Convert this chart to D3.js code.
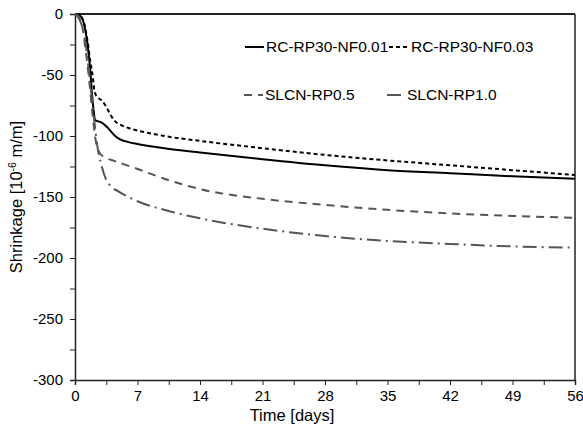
<!DOCTYPE html>
<html><head><meta charset="utf-8">
<script src="https://cdn.jsdelivr.net/npm/d3@7"></script>
<style>body{margin:0;background:#fff;} text{font-family:Arial,"Liberation Sans",sans-serif;}</style>
</head><body><svg id="c" width="583" height="429"></svg>
<script>
const xTicks = [0,7,14,21,28,35,42,49,56];
const yTicks = [0,-50,-100,-150,-200,-250,-300];
const seriesNames = ["RC-RP30-NF0.01","RC-RP30-NF0.03","SLCN-RP0.5","SLCN-RP1.0"];
const tA = [0,0.5,1.0,1.4,1.7,1.9,2.1,2.25,2.6,3.0,3.5,4.0,4.5,5,6,7,10,14,21,28,35,42,49,56];
const vA = [0,-1,-8,-25,-45,-65,-80,-87,-88,-89,-92,-96,-100,-102.5,-105,-106.5,-110,-113.5,-119,-124,-128,-130.5,-133,-135];
const tB = [0,0.5,1.0,1.4,1.7,2.0,2.2,2.5,3.0,3.5,4.0,4.5,5,6,7,10,14,21,28,35,42,49,56];
const vB = [0,-1,-7,-22,-38,-52,-64,-68,-71,-76,-83,-88,-90.5,-93.5,-95.5,-100,-104,-110,-115.5,-120,-124,-128,-132];
const tC = [0,0.4,0.8,1.2,1.6,2.0,2.3,2.7,3.2,4,5,6,7,10,14,21,28,35,42,49,56];
const vC = [0,-2,-10,-30,-55,-85,-103,-113,-117,-119.5,-122,-124.5,-127,-135,-143.5,-151.5,-156.5,-160.5,-163.5,-165.5,-167];
const tD = [0,0.3,0.7,1.1,1.5,1.9,2.2,2.5,3.0,3.5,4.0,5,6,7,10,14,21,28,35,42,49,56];
const vD = [0,-2,-8,-20,-43,-70,-90,-108,-125,-136,-141,-146,-150,-153.5,-160.5,-167.5,-176,-182,-186,-188.5,-190.5,-191.5];

const svg = d3.select("#c");
const L=75,R=575,T=14,B=380;
const x = d3.scaleLinear().domain([0,56]).range([L,R]);
const y = d3.scaleLinear().domain([-300,0]).range([B,T]);

const styles = [
 {color:"#000", dash:null, w:2},
 {color:"#000", dash:"4,3", w:2},
 {color:"#555", dash:"8,6", w:2},
 {color:"#555", dash:"14,5,2,5", w:2}
];
const data = [[tA,vA],[tB,vB],[tC,vC],[tD,vD]];

const xAxis = d3.axisBottom(x).tickValues(d3.range(0,56.01,3.5)).tickSize(5).tickPadding(5).tickFormat(d=> xTicks.includes(d)? d : "");
const gx = svg.append("g").attr("transform",`translate(0,${B})`).call(xAxis);
const yAxis = d3.axisLeft(y).tickValues(d3.range(-300,0.01,25)).tickSize(5).tickPadding(7).tickFormat(d=> yTicks.includes(d)? d : "");
const gy = svg.append("g").attr("transform",`translate(${L},0)`).call(yAxis);
[gx,gy].forEach(g=>{
  g.select(".domain").attr("stroke","#222").attr("stroke-width",1.5);
  g.selectAll(".tick line").attr("stroke","#222").attr("stroke-width",1);
  g.selectAll(".tick text").attr("font-size","15px").attr("fill","#000").style("font-family","Arial, 'Liberation Sans', sans-serif");
});
svg.append("line").attr("x1",L).attr("x2",R).attr("y1",y(0)).attr("y2",y(0)).attr("stroke","#222").attr("stroke-width",2);
svg.append("line").attr("x1",R).attr("x2",R).attr("y1",T).attr("y2",B).attr("stroke","#222").attr("stroke-width",1.5);

const line = d3.line().curve(d3.curveMonotoneX);
data.forEach((d,i)=>{
  const pts = d[0].map((t,j)=>[x(t), y(d[1][j])]);
  svg.append("path").attr("d", line(pts)).attr("fill","none")
    .attr("stroke",styles[i].color).attr("stroke-width",styles[i].w)
    .attr("stroke-dasharray",styles[i].dash);
});

const leg = [
 {x1:245,x2:264,tx:266,ty:47},
 {x1:389,x2:410,tx:411,ty:47},
 {x1:244,x2:263,tx:265,ty:95},
 {x1:387,x2:402,tx:407,ty:95}
];
leg.forEach((l,i)=>{
  svg.append("line").attr("x1",l.x1).attr("x2",l.x2).attr("y1",l.ty).attr("y2",l.ty)
    .attr("stroke",styles[i].color).attr("stroke-width",styles[i].w).attr("stroke-dasharray",styles[i].dash);
  svg.append("text").attr("x",l.tx).attr("y",l.ty).attr("dy","0.35em").attr("font-size","15.5px").text(seriesNames[i]);
});

svg.append("text").attr("x",292).attr("y",421).attr("text-anchor","middle").attr("font-size","16.5px").text("Time [days]");
const yt = svg.append("text").attr("transform",`translate(22,${(T+B)/2}) rotate(-90)`).attr("text-anchor","middle").attr("font-size","16.5px");
yt.append("tspan").text("Shrinkage [10");
yt.append("tspan").attr("font-size","10.5px").attr("dy","-6").text("-6");
yt.append("tspan").attr("dy","6").text(" m/m]");
</script></body></html>
